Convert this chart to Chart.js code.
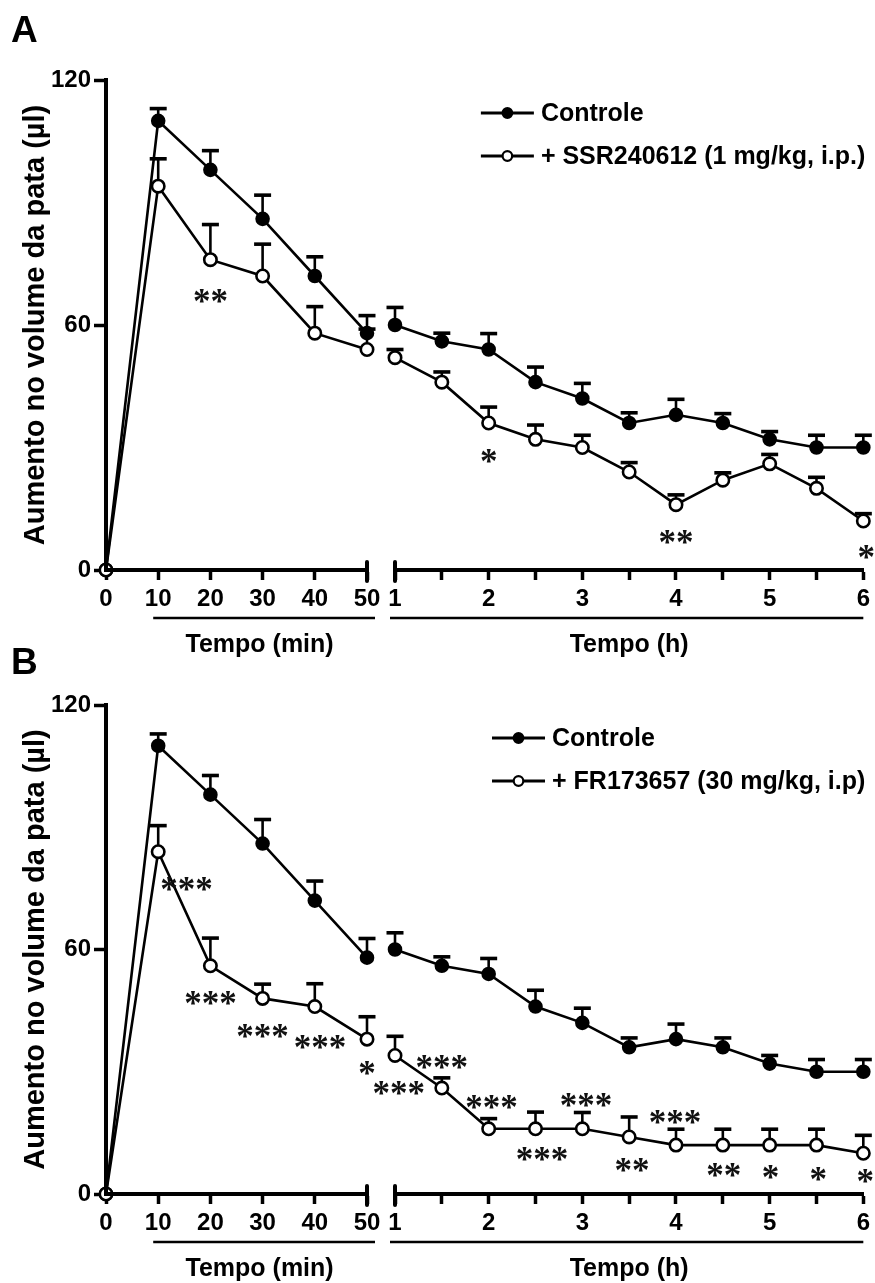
<!DOCTYPE html>
<html>
<head>
<meta charset="utf-8">
<script src="https://cdn.jsdelivr.net/npm/chart.js@4.4.1/dist/chart.umd.min.js"></script>
<style>
  html, body { margin: 0; padding: 0; background: #fff; }
  #page { position: relative; width: 875px; height: 1283px; overflow: hidden; }
  canvas { position: absolute; }
</style>
</head>
<body>
<div id="page">
  <canvas id="aMin" width="400" height="659" style="left:0;top:0"></canvas>
  <canvas id="aH" width="545" height="659" style="left:330px;top:0"></canvas>
  <canvas id="bMin" width="400" height="659" style="left:0;top:624px"></canvas>
  <canvas id="bH" width="545" height="659" style="left:330px;top:624px"></canvas>
</div>
<script>
// time points and ticks
const minutes = [0, 10, 20, 30, 40, 50];
const hours = [1, 1.5, 2, 2.5, 3, 3.5, 4, 4.5, 5, 5.5, 6];
const yTicks = [0, 60, 120];
const minTicks = [0, 10, 20, 30, 40, 50];
const hourTicks = [1, 1.5, 2, 2.5, 3, 3.5, 4, 4.5, 5, 5.5, 6];
const hourLabels = ['1', '', '2', '', '3', '', '4', '', '5', '', '6'];

const yTitle = 'Aumento no volume da pata (µl)';
const minTitle = 'Tempo (min)';
const hourTitle = 'Tempo (h)';

// panel A
const ctrlAmin = [0, 110, 98, 86, 72, 58];
const ctrlAminErr = [0, 3, 4.7, 5.8, 4.7, 4.3];
const ssrAmin = [0, 94, 76, 72, 58, 54];
const ssrAminErr = [0, 6.7, 8.6, 7.8, 6.5, 5];
const ctrlAh = [60, 56, 54, 46, 42, 36, 38, 36, 32, 30, 30];
const ctrlAhErr = [4.3, 2, 3.9, 3.7, 3.7, 2.5, 3.8, 2.3, 1.9, 3, 3];
const ssrAh = [52, 46, 36, 32, 30, 24, 16, 22, 26, 20, 12];
const ssrAhErr = [2, 2.5, 3.9, 3.5, 3, 2.3, 2.4, 1.8, 2.3, 2.7, 1.8];
const starsAmin = [{x: 20, y: 67, text: '**'}];
const starsAh = [{x: 2, y: 28, text: '*'}, {x: 4, y: 8, text: '**'}, {x: 6.03, y: 4.5, text: '*'}];

// panel B
const ctrlBmin = [0, 110, 98, 86, 72, 58];
const ctrlBminErr = [0, 2.9, 4.7, 5.9, 4.8, 4.7];
const frBmin = [0, 84, 56, 48, 46, 38];
const frBminErr = [0, 6.4, 6.8, 3.5, 5.6, 5.5];
const ctrlBh = [60, 56, 54, 46, 42, 36, 38, 36, 32, 30, 30];
const ctrlBhErr = [4.1, 2.2, 3.8, 4, 3.6, 2.3, 3.7, 2.3, 2, 3, 3];
const frBh = [34, 26, 16, 16, 16, 14, 12, 12, 12, 12, 10];
const frBhErr = [4.7, 2.5, 2.5, 4.1, 4, 4.9, 3.9, 3.9, 3.9, 3.9, 4.4];
const starsBmin = [
  {x: 15.4, y: 76, text: '***'}, {x: 20, y: 48, text: '***'}, {x: 30, y: 40, text: '***'},
  {x: 41, y: 37.3, text: '***'}, {x: 50, y: 31, text: '*'}
];
const starsBh = [
  {x: 1.04, y: 26, text: '***'}, {x: 1.5, y: 32.4, text: '***'}, {x: 2.03, y: 22.5, text: '***'},
  {x: 2.57, y: 9.9, text: '***'}, {x: 3.04, y: 23.1, text: '***'}, {x: 3.53, y: 7, text: '**'},
  {x: 3.99, y: 18.9, text: '***'}, {x: 4.51, y: 5.9, text: '**'}, {x: 5.01, y: 5.4, text: '*'},
  {x: 5.52, y: 5, text: '*'}, {x: 6.02, y: 4.5, text: '*'}
];

Chart.defaults.font.family = '"Liberation Sans", Arial, sans-serif';
Chart.defaults.color = '#000';

const SANS = '"Liberation Sans", Arial, sans-serif';

// error bars (upper half only)
const errorBars = {
  id: 'errorBars',
  beforeDatasetsDraw(chart) {
    const {ctx, scales: {y}} = chart;
    ctx.save();
    ctx.strokeStyle = '#000';
    chart.data.datasets.forEach((ds, i) => {
      const meta = chart.getDatasetMeta(i);
      meta.data.forEach((pt, j) => {
        const e = ds.errors[j];
        if (!e) return;
        const top = y.getPixelForValue(ds.data[j].y + e);
        ctx.lineWidth = 2.6;
        ctx.beginPath(); ctx.moveTo(pt.x, pt.y); ctx.lineTo(pt.x, top); ctx.stroke();
        ctx.lineWidth = 3.6;
        ctx.beginPath(); ctx.moveTo(pt.x - 8.5, top); ctx.lineTo(pt.x + 8.5, top); ctx.stroke();
      });
    });
    ctx.restore();
  }
};

function starsPlugin(marks) {
  return {
    id: 'stars',
    afterDatasetsDraw(chart) {
      const {ctx, scales: {x, y}} = chart;
      ctx.save();
      ctx.font = 'bold 35px "Liberation Serif", serif';
      ctx.fillStyle = '#111';
      ctx.textAlign = 'center';
      ctx.textBaseline = 'alphabetic';
      marks.forEach(m => {
        const mt = ctx.measureText(m.text);
        const off = (mt.actualBoundingBoxAscent - mt.actualBoundingBoxDescent) / 2;
        ctx.fillText(m.text, x.getPixelForValue(m.x), y.getPixelForValue(m.y) + off);
      });
      ctx.restore();
    }
  };
}

function breakCap(ctx, px, base) {
  ctx.lineWidth = 4;
  ctx.lineCap = 'round';
  ctx.beginPath(); ctx.moveTo(px, base - 8); ctx.lineTo(px, base + 11); ctx.stroke();
  ctx.lineCap = 'butt';
}

function leftDecor(p) {
  return {
    id: 'leftDecor',
    afterDraw(chart) {
      const {ctx, scales: {x}} = chart;
      const base = chart.chartArea.bottom;
      const x0 = x.getPixelForValue(minTicks[1]);
      const x1 = x.getPixelForValue(minTicks[minTicks.length - 1]);
      ctx.save();
      ctx.strokeStyle = '#000';
      ctx.fillStyle = '#000';
      breakCap(ctx, x1, base);
      ctx.lineWidth = 2.5;
      ctx.beginPath(); ctx.moveTo(x0 - 5, base + 48); ctx.lineTo(x1 + 8, base + 48); ctx.stroke();
      ctx.font = 'bold 25px ' + SANS;
      ctx.textAlign = 'center';
      ctx.textBaseline = 'middle';
      ctx.fillText(minTitle, (x0 + x1) / 2 - 3, base + 75);
      ctx.font = 'bold 37px ' + SANS;
      ctx.textAlign = 'left';
      ctx.textBaseline = 'alphabetic';
      ctx.fillText(p.letter, 11, p.letterY);
      ctx.restore();
    }
  };
}

const rightDecor = {
  id: 'rightDecor',
  afterDraw(chart) {
    const {ctx, chartArea, scales: {x}} = chart;
    const base = chartArea.bottom;
    const x0 = x.getPixelForValue(hourTicks[0]);
    const x1 = x.getPixelForValue(hourTicks[hourTicks.length - 1]);
    ctx.save();
    ctx.strokeStyle = '#000';
    ctx.fillStyle = '#000';
    breakCap(ctx, x0, base);
    ctx.lineWidth = 2.5;
    ctx.beginPath(); ctx.moveTo(x0 - 5, base + 48); ctx.lineTo(x1, base + 48); ctx.stroke();
    ctx.font = 'bold 25px ' + SANS;
    ctx.textAlign = 'center';
    ctx.textBaseline = 'middle';
    ctx.fillText(hourTitle, (x0 + x1) / 2, base + 75);

    // legend, right aligned block
    ctx.font = 'bold 25px ' + SANS;
    const sets = chart.data.datasets;
    const maxW = Math.max(...sets.map(d => ctx.measureText(d.label).width));
    const tx = chartArea.right + 2 - maxW;
    sets.forEach((d, i) => {
      const ly = chartArea.top + 33 + i * 43;
      ctx.lineWidth = 2.8;
      ctx.beginPath(); ctx.moveTo(tx - 60, ly); ctx.lineTo(tx - 7, ly); ctx.stroke();
      ctx.beginPath(); ctx.arc(tx - 33.5, ly, 4.8, 0, Math.PI * 2);
      ctx.fillStyle = d.pointBackgroundColor; ctx.fill();
      ctx.lineWidth = 2.2; ctx.stroke();
      ctx.fillStyle = '#000';
      ctx.textAlign = 'left';
      ctx.fillText(d.label, tx, ly + 1);
    });
    ctx.restore();
  }
};

function series(label, xs, ys, errs, filled) {
  return {
    label: label,
    data: xs.map((v, i) => ({x: v, y: ys[i]})),
    errors: errs,
    borderColor: '#000',
    borderWidth: 2.6,
    tension: 0,
    pointRadius: filled ? 6 : 6.2,
    pointBorderWidth: 2.6,
    pointBorderColor: '#000',
    pointBackgroundColor: filled ? '#000' : '#fff',
    order: filled ? 1 : 0,
    clip: false
  };
}

const tickFont = {size: 24, weight: 'bold'};

function makePanel(p) {
  new Chart(document.getElementById(p.minId), {
    type: 'line',
    data: {datasets: [
      series('Controle', minutes, p.ctrlMin, p.ctrlMinErr, true),
      series(p.drug, minutes, p.drugMin, p.drugMinErr, false)
    ]},
    options: {
      responsive: false, animation: false, devicePixelRatio: 1,
      layout: {padding: {top: p.padTop, bottom: 49, left: 0, right: 33}},
      plugins: {legend: {display: false}, tooltip: {enabled: false}},
      scales: {
        x: {
          type: 'linear', min: 0, max: 50,
          afterBuildTicks: s => { s.ticks = minTicks.map(v => ({value: v})); },
          afterFit: s => { s.height = 40; },
          border: {display: true, color: '#000', width: 4, z: 1},
          grid: {drawOnChartArea: false, tickLength: 10, tickWidth: 3.5, color: '#000'},
          ticks: {font: tickFont, color: '#000', padding: 5, maxRotation: 0, autoSkip: false}
        },
        y: {
          min: 0, max: 120,
          afterBuildTicks: s => { s.ticks = yTicks.map(v => ({value: v})); },
          afterFit: s => { s.width = 106; },
          border: {display: true, color: '#000', width: 4, z: 1},
          grid: {drawOnChartArea: false, tickLength: 12, tickWidth: 3.5, color: '#000'},
          ticks: {font: tickFont, color: '#000', padding: 3},
          title: {display: true, text: yTitle, color: '#000',
                  font: {size: 29, weight: 'bold'}, padding: {top: 19, bottom: 0}}
        }
      }
    },
    plugins: [errorBars, starsPlugin(p.starsMin), leftDecor(p)]
  });

  new Chart(document.getElementById(p.hId), {
    type: 'line',
    data: {datasets: [
      series('Controle', hours, p.ctrlH, p.ctrlHErr, true),
      series(p.drug, hours, p.drugH, p.drugHErr, false)
    ]},
    options: {
      responsive: false, animation: false, devicePixelRatio: 1,
      layout: {padding: {top: p.padTop, bottom: 49, left: 65, right: 7}},
      plugins: {legend: {display: false}, tooltip: {enabled: false}},
      scales: {
        x: {
          type: 'linear', min: 1, max: 6,
          afterBuildTicks: s => { s.ticks = hourTicks.map(v => ({value: v})); },
          afterFit: s => { s.height = 40; },
          border: {display: true, color: '#000', width: 4},
          grid: {drawOnChartArea: false, tickLength: 10, tickWidth: 3.5, color: '#000'},
          ticks: {font: tickFont, color: '#000', padding: 5, maxRotation: 0, autoSkip: false,
                  callback: v => hourLabels[hourTicks.indexOf(v)] || ''}
        },
        y: {min: 0, max: 120, display: false}
      }
    },
    plugins: [errorBars, starsPlugin(p.starsH), rightDecor]
  });
}

makePanel({
  minId: 'aMin', hId: 'aH', letter: 'A', letterY: 42, padTop: 80,
  drug: '+ SSR240612 (1 mg/kg, i.p.)',
  ctrlMin: ctrlAmin, ctrlMinErr: ctrlAminErr, drugMin: ssrAmin, drugMinErr: ssrAminErr,
  ctrlH: ctrlAh, ctrlHErr: ctrlAhErr, drugH: ssrAh, drugHErr: ssrAhErr,
  starsMin: starsAmin, starsH: starsAh
});

makePanel({
  minId: 'bMin', hId: 'bH', letter: 'B', letterY: 50, padTop: 81,
  drug: '+ FR173657 (30 mg/kg, i.p)',
  ctrlMin: ctrlBmin, ctrlMinErr: ctrlBminErr, drugMin: frBmin, drugMinErr: frBminErr,
  ctrlH: ctrlBh, ctrlHErr: ctrlBhErr, drugH: frBh, drugHErr: frBhErr,
  starsMin: starsBmin, starsH: starsBh
});
</script>
</body>
</html>
